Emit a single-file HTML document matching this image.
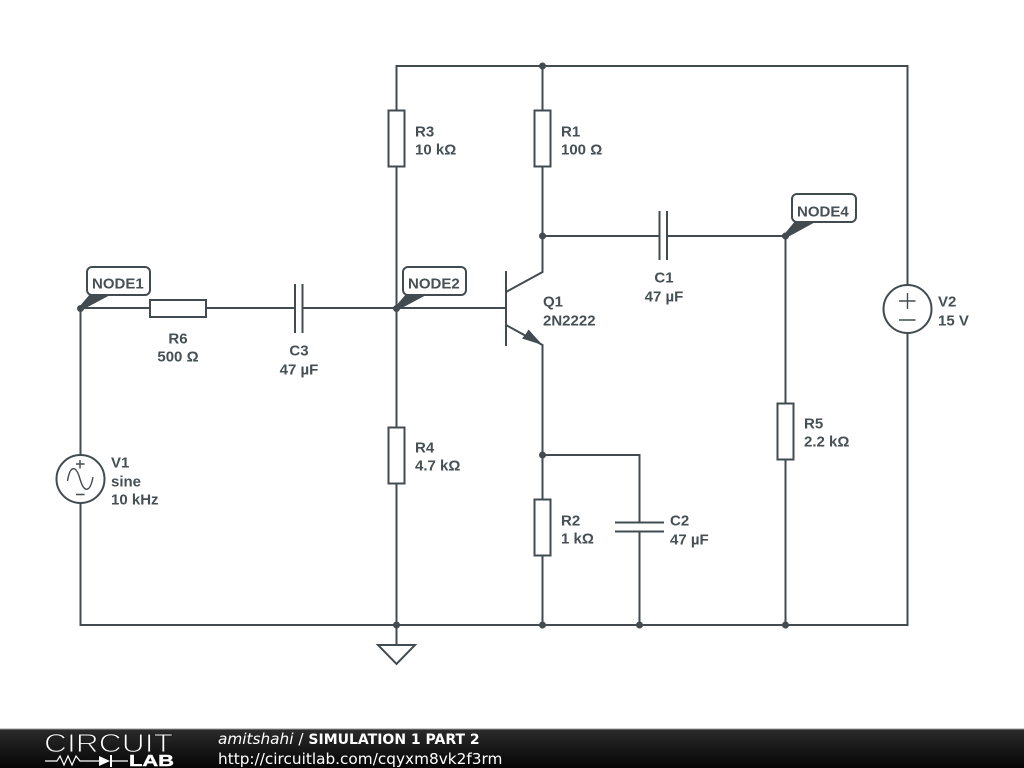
<!DOCTYPE html>
<html><head><meta charset="utf-8"><style>
html,body{margin:0;padding:0;background:#fff;width:1024px;height:768px;overflow:hidden}
svg{display:block}
.w{fill:none;stroke:#424c50;stroke-width:2}
.s{fill:none;stroke:#424c50;stroke-width:1.4}
.b{fill:#fff;stroke:#424c50;stroke-width:2}
.t{font-family:"Liberation Sans",sans-serif;font-size:15px;font-weight:bold;fill:#465054}
.f{font-family:"DejaVu Sans",sans-serif;font-size:15.3px;fill:#fff}
</style></head><body>
<svg width="1024" height="768" viewBox="0 0 1024 768" xmlns="http://www.w3.org/2000/svg">
<defs><linearGradient id="g" x1="0" y1="0" x2="0" y2="1"><stop offset="0" stop-color="#2c2c2c"/><stop offset="1" stop-color="#050505"/></linearGradient></defs>
<rect width="1024" height="768" fill="#fff"/>
<path class="w" d="M396.5 308V66H907.5V285M907.5 333V625H80.5V503M80.5 455V308H150M206 308H295M302 308H506M396.5 308V625M542.5 66V272L506 292M506 325L542.5 345V625M542.5 236H659M667 236H785.5V625M542.5 455H639.5V522M639.5 531V625M396.5 625V645"/>
<path class="w" d="M506 271V346M295 284V333M302.500 284V333M659.500 211V260M667 211V260M615 522.500H664M615 531.500H664"/>
<path d="M542.500 345L522 338.500L525.500 334.500L528.500 329.500Z" fill="#424c50"/>
<rect class="b" x="388.500" y="110.500" width="16" height="56"/>
<rect class="b" x="534.500" y="110.500" width="16" height="56"/>
<rect class="b" x="388.500" y="427.500" width="16" height="56"/>
<rect class="b" x="534.500" y="499.500" width="16" height="56"/>
<rect class="b" x="777.500" y="403.500" width="16" height="56"/>
<rect class="b" x="150" y="300" width="56" height="17"/>
<circle class="b" cx="80.500" cy="479" r="24"/>
<circle class="b" cx="907.500" cy="309" r="24"/>
<path class="s" d="M80 460V468.500M76 464H84.500M76 494.500H84.500M67.500 481C70 465 76 465 80 479S90 493 93 477"/>
<path class="s" d="M899 301H915.500M907.500 293V309M899 320H915.500"/>
<path class="b" d="M378 645H415L396.500 664Z"/>
<g fill="#424c50">
<circle cx="542.500" cy="66" r="3.500"/><circle cx="542.500" cy="236" r="3.500"/><circle cx="396.500" cy="308.500" r="3.500"/><circle cx="80.500" cy="308.500" r="3.500"/><circle cx="785.500" cy="236" r="3.500"/><circle cx="542.500" cy="455" r="3.500"/><circle cx="396.500" cy="625" r="3.500"/><circle cx="542.500" cy="625" r="3.500"/><circle cx="639.500" cy="625" r="3.500"/><circle cx="785.500" cy="625" r="3.500"/>
<path d="M79 307L91 293H114L82 310Z"/><path d="M395 307L407 293H430L398 310Z"/><path d="M784 234.500L796 220H819L787 237.500Z"/>
</g>
<rect class="b" x="87" y="267" width="63" height="28" rx="5"/>
<rect class="b" x="403" y="267" width="63" height="28" rx="5"/>
<rect class="b" x="792" y="194" width="64" height="28" rx="5"/>
<g class="t" transform="translate(0,.5)">
<text x="92" y="288">NODE1</text><text x="408" y="288">NODE2</text><text x="797" y="216">NODE4</text>
<text x="415" y="136">R3</text><text x="415" y="154">10 kΩ</text>
<text x="561" y="136">R1</text><text x="561" y="154">100 Ω</text>
<text x="415" y="452">R4</text><text x="415" y="470">4.7 kΩ</text>
<text x="561" y="525">R2</text><text x="561" y="543">1 kΩ</text>
<text x="804" y="428">R5</text><text x="804" y="446">2.2 kΩ</text>
<text x="178" y="343" text-anchor="middle">R6</text><text x="178" y="361" text-anchor="middle">500 Ω</text>
<text x="299" y="355" text-anchor="middle">C3</text><text x="299" y="374" text-anchor="middle">47 µF</text>
<text x="664" y="282" text-anchor="middle">C1</text><text x="664" y="301" text-anchor="middle">47 µF</text>
<text x="670" y="525">C2</text><text x="670" y="544">47 µF</text>
<text x="543" y="306">Q1</text><text x="543" y="325">2N2222</text>
<text x="111" y="467">V1</text><text x="111" y="486">sine</text><text x="111" y="504">10 kHz</text>
<text x="938" y="306">V2</text><text x="938" y="325">15 V</text>
</g>
<rect y="729" width="1024" height="39" fill="url(#g)"/>
<rect y="728.500" width="1024" height="1" fill="#999"/>
<text x="44" y="752" font-family="Liberation Sans,sans-serif" font-size="26" fill="#fff" stroke="#1c1c1c" stroke-width="1" textLength="129" lengthAdjust="spacingAndGlyphs">CIRCUIT</text>
<path d="M45 761H57L60 756L64 765L68 756L72 765L76 756L80 761H99M111 761H128" fill="none" stroke="#fff" stroke-width="1.200"/>
<path d="M99 756L110 761L99 766Z" fill="#fff"/><path d="M111 755V767" stroke="#fff" stroke-width="2"/>
<text x="129" y="766" font-family="Liberation Sans,sans-serif" font-size="15.500" font-weight="bold" fill="#fff" stroke="#fff" stroke-width=".4" textLength="45" lengthAdjust="spacingAndGlyphs">LAB</text>
<text class="f" x="218" y="744"><tspan font-style="italic">amitshahi</tspan> / <tspan font-weight="bold" font-size="14">SIMULATION 1 PART 2</tspan></text>
<text class="f" x="218" y="764">http://circuitlab.com/cqyxm8vk2f3rm</text>
</svg>
</body></html>
